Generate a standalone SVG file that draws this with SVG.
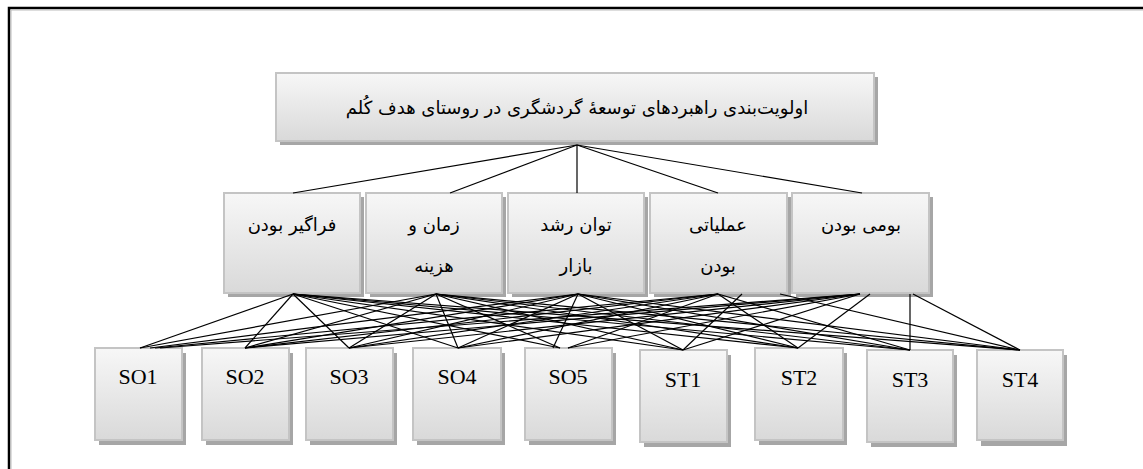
<svg xmlns="http://www.w3.org/2000/svg" width="1143" height="469" viewBox="0 0 1143 469">
<defs>
<linearGradient id="g" x1="0" y1="0" x2="0" y2="1">
<stop offset="0" stop-color="#f7f7f7"/>
<stop offset="1" stop-color="#d9d9d9"/>
</linearGradient>
</defs>
<style>
.sh{fill:#a6a6a6}
.bx{fill:url(#g);stroke:#c4c4c4;stroke-width:2}
.fa{font-family:"DejaVu Sans",sans-serif;font-size:18px;fill:#000;text-anchor:middle}
.en{font-family:"Liberation Serif",serif;font-size:22px;fill:#000;text-anchor:middle}
.c line{stroke:#000;stroke-width:1.2}
</style>
<rect width="1143" height="469" fill="#fff"/>
<path d="M9 480 V8 H1150" fill="none" stroke="#000" stroke-width="2.5"/>
<path d="M11 480 V10 H1150" fill="none" stroke="#bbb" stroke-width="1"/>
<g id="goal">
<rect class="sh" x="280" y="77" width="598" height="68"/>
<rect class="bx" x="276" y="73" width="598" height="68"/>
<text class="fa" x="577" y="114" direction="rtl" font-size="19">اولویت‌بندی راهبردهای توسعهٔ گردشگری در روستای هدف کُلم</text>
</g>
<g id="c1">
<rect class="sh" x="228" y="197" width="136" height="100"/>
<rect class="bx" x="224" y="193" width="136" height="100"/>
<text class="fa" x="292" y="231" direction="rtl">فراگیر بودن</text>
</g>
<g id="c2">
<rect class="sh" x="370" y="197" width="136" height="100"/>
<rect class="bx" x="366" y="193" width="136" height="100"/>
<text class="fa" x="434" y="231" direction="rtl">زمان و</text>
<text class="fa" x="434" y="272" direction="rtl">هزینه</text>
</g>
<g id="c3">
<rect class="sh" x="512" y="197" width="136" height="100"/>
<rect class="bx" x="508" y="193" width="136" height="100"/>
<text class="fa" x="576" y="231" direction="rtl">توان رشد</text>
<text class="fa" x="576" y="272" direction="rtl">بازار</text>
</g>
<g id="c4">
<rect class="sh" x="654" y="197" width="137" height="100"/>
<rect class="bx" x="650" y="193" width="137" height="100"/>
<text class="fa" x="718" y="231" direction="rtl">عملیاتی</text>
<text class="fa" x="718" y="272" direction="rtl">بودن</text>
</g>
<g id="c5">
<rect class="sh" x="796" y="197" width="137" height="100"/>
<rect class="bx" x="792" y="193" width="137" height="100"/>
<text class="fa" x="861" y="231" direction="rtl">بومی بودن</text>
</g>
<g id="so1"><rect class="sh" x="99" y="353" width="87" height="92"/><rect class="bx" x="95" y="348" width="87" height="92"/><text class="en" x="138" y="384">SO1</text></g>
<g id="so2"><rect class="sh" x="206" y="353" width="87" height="92"/><rect class="bx" x="202" y="348" width="87" height="92"/><text class="en" x="245" y="384">SO2</text></g>
<g id="so3"><rect class="sh" x="310" y="353" width="87" height="92"/><rect class="bx" x="306" y="348" width="87" height="92"/><text class="en" x="349" y="384">SO3</text></g>
<g id="so4"><rect class="sh" x="417" y="353" width="88" height="92"/><rect class="bx" x="413" y="348" width="88" height="92"/><text class="en" x="457" y="384">SO4</text></g>
<g id="so5"><rect class="sh" x="529" y="353" width="87" height="92"/><rect class="bx" x="525" y="348" width="87" height="92"/><text class="en" x="568" y="384">SO5</text></g>
<g id="st1"><rect class="sh" x="644" y="355" width="87" height="92"/><rect class="bx" x="640" y="350" width="87" height="92"/><text class="en" x="683" y="387">ST1</text></g>
<g id="st2"><rect class="sh" x="759" y="353" width="88" height="92"/><rect class="bx" x="755" y="348" width="88" height="92"/><text class="en" x="799" y="385">ST2</text></g>
<g id="st3"><rect class="sh" x="871" y="355" width="86" height="92"/><rect class="bx" x="867" y="350" width="86" height="92"/><text class="en" x="910" y="387">ST3</text></g>
<g id="st4"><rect class="sh" x="981" y="355" width="86" height="91"/><rect class="bx" x="977" y="350" width="86" height="90"/><text class="en" x="1020" y="387">ST4</text></g>
<g id="connectors" class="c">
<line x1="577" y1="145" x2="293" y2="193"/>
<line x1="577" y1="145" x2="450" y2="193"/>
<line x1="577" y1="145" x2="577" y2="193"/>
<line x1="577" y1="145" x2="718" y2="193"/>
<line x1="577" y1="145" x2="862" y2="193"/>
<line x1="293" y1="294" x2="140" y2="348"/><line x1="293" y1="294" x2="245" y2="348"/><line x1="293" y1="294" x2="349" y2="348"/><line x1="293" y1="294" x2="458" y2="348"/><line x1="293" y1="294" x2="560" y2="348"/><line x1="293" y1="294" x2="683" y2="350"/><line x1="293" y1="294" x2="798" y2="348"/><line x1="293" y1="294" x2="910" y2="350"/><line x1="293" y1="294" x2="1020" y2="350"/>
<line x1="436" y1="294" x2="140" y2="348"/><line x1="436" y1="294" x2="245" y2="348"/><line x1="436" y1="294" x2="349" y2="348"/><line x1="436" y1="294" x2="458" y2="348"/><line x1="436" y1="294" x2="560" y2="348"/><line x1="436" y1="294" x2="683" y2="350"/><line x1="436" y1="294" x2="798" y2="348"/><line x1="436" y1="294" x2="910" y2="350"/><line x1="436" y1="294" x2="1020" y2="350"/>
<line x1="578" y1="294" x2="150" y2="348"/><line x1="578" y1="294" x2="245" y2="348"/><line x1="578" y1="294" x2="349" y2="348"/><line x1="578" y1="294" x2="458" y2="348"/><line x1="578" y1="294" x2="553" y2="348"/><line x1="578" y1="294" x2="683" y2="350"/><line x1="578" y1="294" x2="798" y2="348"/><line x1="578" y1="294" x2="910" y2="350"/><line x1="578" y1="294" x2="1020" y2="350"/>
<line x1="718" y1="294" x2="155" y2="348"/><line x1="718" y1="294" x2="245" y2="348"/><line x1="718" y1="294" x2="349" y2="348"/><line x1="718" y1="294" x2="458" y2="348"/><line x1="718" y1="294" x2="568" y2="348"/><line x1="742" y1="294" x2="683" y2="350"/><line x1="718" y1="294" x2="798" y2="348"/><line x1="718" y1="294" x2="910" y2="350"/><line x1="780" y1="294" x2="1020" y2="350"/>
<line x1="860" y1="294" x2="160" y2="348"/><line x1="860" y1="294" x2="245" y2="348"/><line x1="860" y1="294" x2="349" y2="348"/><line x1="860" y1="294" x2="458" y2="348"/><line x1="860" y1="294" x2="568" y2="348"/><line x1="860" y1="294" x2="683" y2="350"/><line x1="870" y1="294" x2="798" y2="348"/><line x1="910" y1="294" x2="910" y2="350"/><line x1="913" y1="294" x2="1020" y2="350"/>
</g>
</svg>
